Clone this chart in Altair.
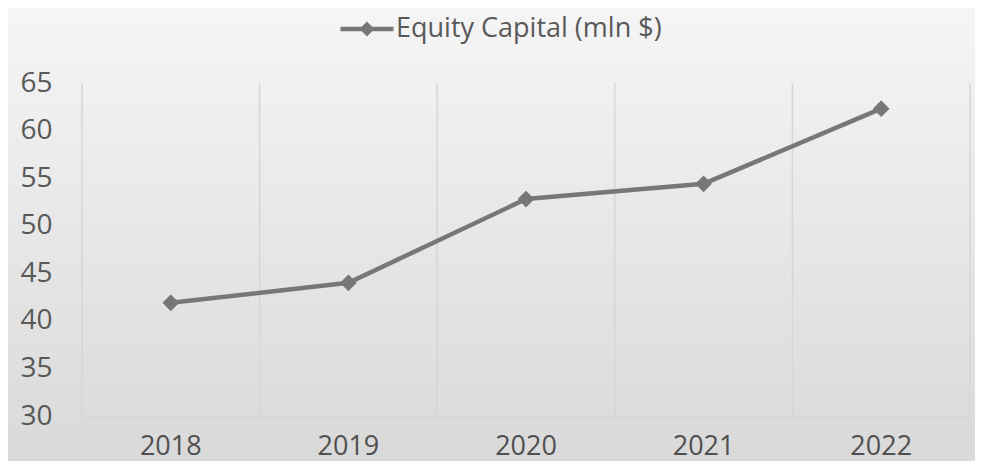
import altair as alt
import pandas as pd

years = ["2018", "2019", "2020", "2021", "2022"]
equity = [41.9, 44.0, 52.8, 54.4, 62.3]
series_name = "Equity Capital (mln $)"
y_ticks = [30, 35, 40, 45, 50, 55, 60, 65]

W, H = 888, 333
PAD = {"left": 74, "top": 75, "right": 5, "bottom": 45}

df = pd.DataFrame({"year": years, "value": equity, "series": [series_name] * len(years)})
grid_df = pd.DataFrame({"year": years})
bg_df = pd.DataFrame({"k": [0]})

x_scale = alt.Scale(type="band", domain=years, paddingInner=0, paddingOuter=0)
gray = "#777777"
font = "Open Sans"
txt = "#595959"

x_axis = alt.Axis(labelAngle=0, grid=False, ticks=False, domain=True, zindex=1,
                  domainColor="#d6d6d6", domainWidth=1.5,
                  labelFont=font, labelFontSize=27, labelColor="#505050",
                  labelPadding=38, labelBaseline="alphabetic")

bg = alt.Chart(bg_df).mark_rect(
    fill=alt.Gradient(
        gradient="linear",
        stops=[alt.GradientStop(color="#f5f5f5", offset=0),
               alt.GradientStop(color="#d9d9d9", offset=1)],
        x1=0, x2=0, y1=0, y2=1,
    )
).encode(
    x=alt.value(-PAD["left"]), x2=alt.value(W + PAD["right"]),
    y=alt.value(-PAD["top"]), y2=alt.value(H + PAD["bottom"]),
)

grid = alt.Chart(grid_df).mark_rule(color="#d6d6d6", strokeWidth=1.5).encode(
    x=alt.X("year:O", scale=x_scale, bandPosition=0, title=None, axis=x_axis),
    y=alt.value(0), y2=alt.value(H),
)
grid_right = alt.Chart(bg_df).mark_rule(color="#d6d6d6", strokeWidth=1.5).encode(
    x=alt.value(W), y=alt.value(0), y2=alt.value(H),
)

legend_symbol = "M-1,0L1,0M0,-0.16L0.16,0L0,0.16L-0.16,0Z"

line = alt.Chart(df).mark_line(
    strokeWidth=4.5,
    point=alt.OverlayMarkDef(shape="diamond", size=280, filled=True, color=gray, opacity=1),
).encode(
    x=alt.X("year:O", scale=x_scale, bandPosition=0.5, title=None, axis=x_axis),
    y=alt.Y("value:Q", title=None,
            scale=alt.Scale(domain=[30, 65], nice=False, zero=False),
            axis=alt.Axis(values=y_ticks, grid=False, ticks=False, tickSize=0, domain=False,
                          zindex=1, labelFont=font, labelFontSize=28, labelColor=txt,
                          labelPadding=30)),
    color=alt.Color("series:N", scale=alt.Scale(range=[gray]),
                    legend=alt.Legend(title=None, orient="none", legendX=256, legendY=-83,
                                      symbolType=legend_symbol, symbolSize=2809,
                                      symbolStrokeWidth=4.5, symbolFillColor=gray,
                                      symbolStrokeColor=gray, labelOffset=0, labelLimit=0,
                                      zindex=1,
                                      labelFont=font, labelFontSize=27, labelColor=txt)),
)

chart = alt.layer(bg, grid, grid_right, line).properties(
    width=W, height=H,
    autosize=alt.AutoSizeParams(type="none"),
    padding=PAD,
    background="#e8e8e8",
).configure_view(stroke=None)

chart.save("out.html", embed_options={"renderer": "svg", "actions": False})
